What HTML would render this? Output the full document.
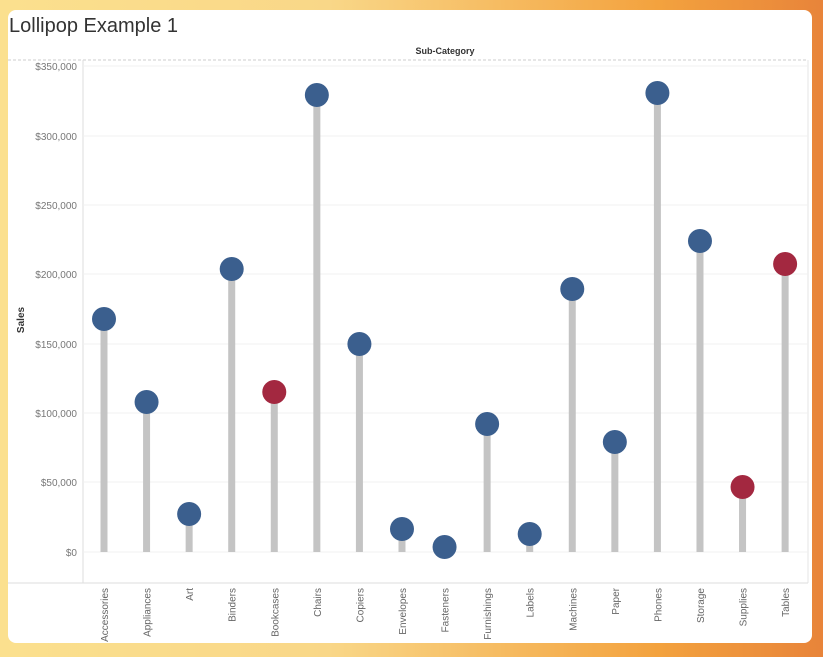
<!DOCTYPE html>
<html><head><meta charset="utf-8"><style>
body{margin:0;width:823px;height:657px;overflow:hidden;background:linear-gradient(90deg,#fbe08e 0%,#f9d788 40%,#f3a23e 80%,#e8843a 100%);font-family:"Liberation Sans",sans-serif}
</style></head><body>
<svg width="823" height="657" style="position:absolute;left:0;top:0">
<rect x="8" y="10" width="804" height="633" rx="8" fill="#fff"/>
<text x="9" y="32" font-size="20" fill="#333">Lollipop Example 1</text>
<text x="445" y="54" font-size="9" font-weight="bold" fill="#333" text-anchor="middle">Sub-Category</text>
<line x1="8" y1="60" x2="808" y2="60" stroke="#ccc" stroke-dasharray="3,2"/>
<line x1="808" y1="60" x2="808" y2="583" stroke="#e6e6e6"/>
<line x1="83" y1="60" x2="83" y2="583" stroke="#ddd"/>
<line x1="8" y1="583" x2="808" y2="583" stroke="#ddd"/>
<g stroke="#f0f0f0">
<line x1="83" x2="808" y1="66" y2="66"/><line x1="83" x2="808" y1="136" y2="136"/><line x1="83" x2="808" y1="205" y2="205"/><line x1="83" x2="808" y1="274" y2="274"/><line x1="83" x2="808" y1="344" y2="344"/><line x1="83" x2="808" y1="413" y2="413"/><line x1="83" x2="808" y1="482" y2="482"/><line x1="83" x2="808" y1="552" y2="552"/>
</g>
<g font-size="10" fill="#777" text-anchor="end">
<text x="77" y="70">$350,000</text><text x="77" y="140">$300,000</text><text x="77" y="209">$250,000</text><text x="77" y="278">$200,000</text><text x="77" y="348">$150,000</text><text x="77" y="417">$100,000</text><text x="77" y="486">$50,000</text><text x="77" y="556">$0</text>
</g>
<text transform="translate(24,320) rotate(-90)" font-size="10" font-weight="bold" fill="#333" text-anchor="middle">Sales</text>
<g id="d"></g>
</svg>
<script>
var d=[["Accessories",319,0],["Appliances",402,0],["Art",514,0],["Binders",269,0],["Bookcases",392,1],["Chairs",95,0],["Copiers",344,0],["Envelopes",529,0],["Fasteners",547,0],["Furnishings",424,0],["Labels",534,0],["Machines",289,0],["Paper",442,0],["Phones",93,0],["Storage",241,0],["Supplies",487,1],["Tables",264,1]];
var s="";
d.forEach(function(e,i){var x=104+i*42.57;
s+='<rect x="'+(x-3.5)+'" y="'+e[1]+'" width="7" height="'+(552-e[1])+'" fill="#c4c4c4"/>';
s+='<circle cx="'+x+'" cy="'+e[1]+'" r="12" fill="'+(e[2]?"#a32840":"#3b5f8e")+'"/>';
s+='<text transform="translate('+(x+4)+',588) rotate(-90)" font-size="10" fill="#666" text-anchor="end">'+e[0]+'</text>';});
document.getElementById("d").innerHTML=s;
</script>
</body></html>
